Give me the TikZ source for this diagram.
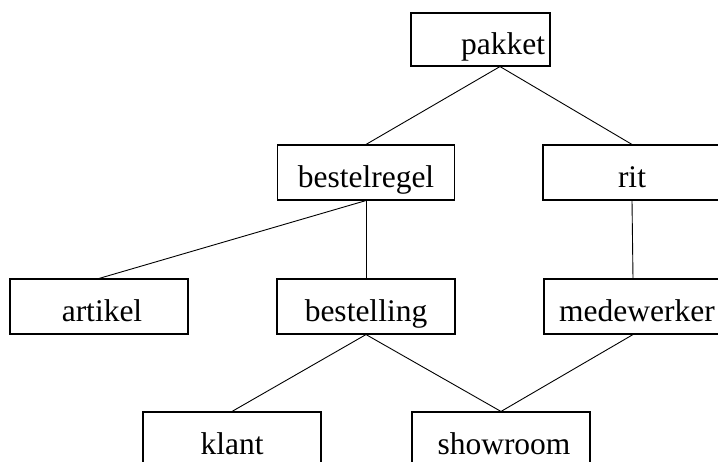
\documentclass[tikz,border=0pt]{standalone}
\usepackage{fontspec}
\setmainfont{Liberation Serif}
\begin{document}
\begin{tikzpicture}[x=1pt,y=-1pt,
  box/.style={draw=black,line width=1.1pt,minimum width=178pt,minimum height=55pt,
    inner sep=0pt,text height=35pt,text depth=6pt,
    font=\fontsize{31.5}{36}\selectfont},
  link/.style={draw=black,line width=0.9pt}]
\useasboundingbox (0,0) rectangle (718,461);
\clip (0,0) rectangle (718,461);
\node[box,minimum width=139pt,minimum height=53pt,text width=129pt,align=right,inner xsep=5pt] (pakket) at (480.5,39.5) {pakket};
\coordinate (pk) at ([xshift=19.5pt]pakket.south);
\node[box,minimum width=177pt] (bestelregel) at (366,172.5) {bestelregel};
\node[box] (rit) at (632,172.5) {rit};
\node[box] (artikel) at (99,306.5) {\hspace*{6pt}artikel};
\node[box] (bestelling) at (366,306.5) {bestelling};
\node[box] (medewerker) at (633,306.5) {\hspace*{8pt}medewerker};
\node[box] (klant) at (232,439.5) {klant};
\node[box] (showroom) at (501,439.5) {\hspace*{6pt}showroom};
\draw[link] (pk) -- (bestelregel.north);
\draw[link] (pk) -- (rit.north);
\draw[link] (bestelregel.south) -- (artikel.north);
\draw[link] (bestelregel.south) -- (bestelling.north);
\draw[link] (rit.south) -- (medewerker.north);
\draw[link] (bestelling.south) -- (klant.north);
\draw[link] (bestelling.south) -- (showroom.north);
\draw[link] (medewerker.south) -- (showroom.north);
\end{tikzpicture}
\end{document}
